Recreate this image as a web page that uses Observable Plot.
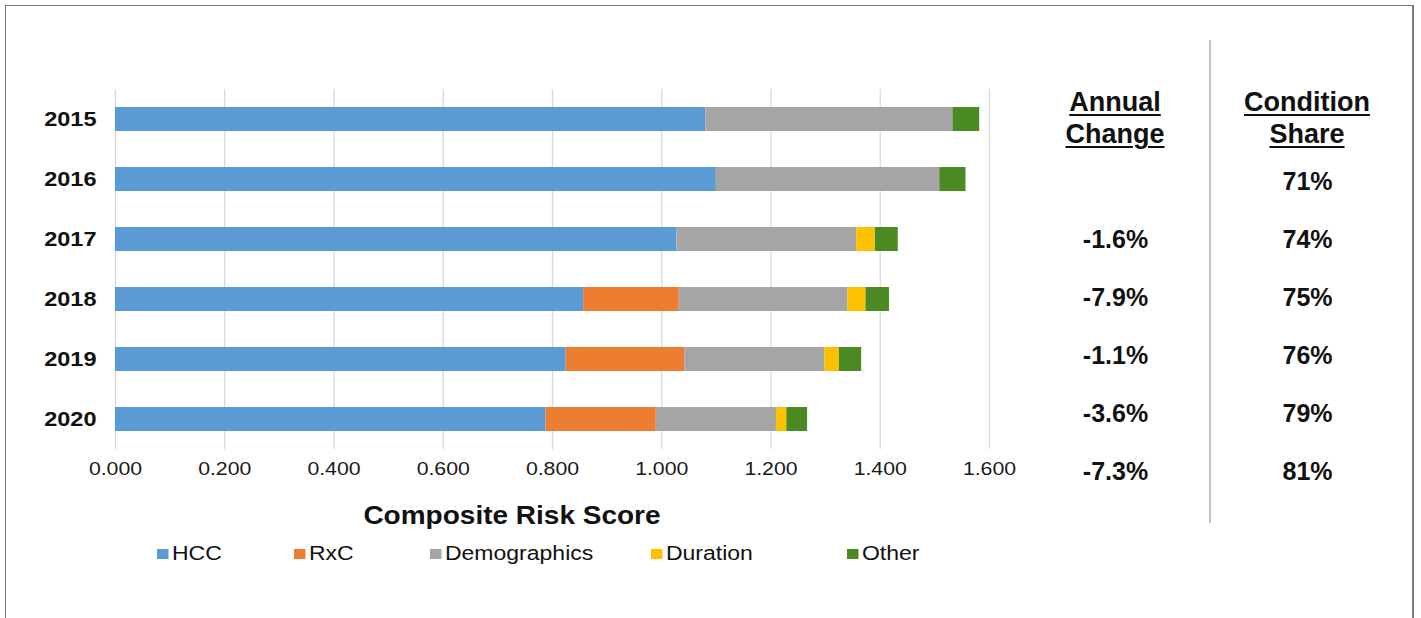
<!DOCTYPE html>
<html><head><meta charset="utf-8">
<script src="https://cdn.jsdelivr.net/npm/d3@7"></script>
<script src="https://cdn.jsdelivr.net/npm/@observablehq/plot@0.6"></script>
<style>
body{margin:0;background:#fff;font-family:"Liberation Sans",Arial,sans-serif;color:#111;}
#wrap{position:relative;width:1421px;height:618px;overflow:hidden;background:#fff;}
#frame{position:absolute;left:5px;top:5px;width:1409px;height:660px;border:1px solid #7a7a7a;border-right:2px solid #7a7a7a;box-sizing:border-box;}
#chart{position:absolute;left:0;top:0;}
#table{position:absolute;left:1010px;top:0;}
#divider{position:absolute;left:1209px;top:40px;width:2px;height:483px;background:#c4c4c4;}
.hdr{position:absolute;top:86px;width:220px;text-align:center;font-weight:bold;font-size:27px;line-height:32px;text-decoration:underline;text-decoration-thickness:2px;text-underline-offset:3px;}
#xtitle{position:absolute;left:312px;top:500px;width:400px;text-align:center;font-weight:bold;font-size:25px;line-height:30px;transform:scaleX(1.12);}
.leg{position:absolute;top:542px;font-size:20px;line-height:22px;white-space:nowrap;transform:scaleX(1.15);transform-origin:left center;}
.leg i{display:inline-block;width:10px;height:10px;margin-right:3px;vertical-align:1px;}
</style>
</head><body>
<div id="wrap">
  <div id="frame"></div>
  <div id="chart"></div>
  <div id="table"></div>
  <div id="divider"></div>
  <div class="hdr" style="left:1005px">Annual<br>Change</div>
  <div class="hdr" style="left:1197px">Condition<br>Share</div>
  <div id="xtitle">Composite Risk Score</div>
  <div id="legend"></div>
</div>
<script>
// ---- data ----
const years = ["2015", "2016", "2017", "2018", "2019", "2020"];
const series = ["HCC", "RxC", "Demographics", "Duration", "Other"];
const colors = ["#5b9bd5", "#ed7d31", "#a5a5a5", "#ffc000", "#4b8a22"];
const hcc = [1.081, 1.100, 1.028, 0.857, 0.825, 0.788];
const rxc = [0, 0, 0, 0.175, 0.217, 0.202];
const demographics = [0.452, 0.409, 0.329, 0.309, 0.257, 0.220];
const duration = [0, 0, 0.034, 0.033, 0.026, 0.019];
const other = [0.049, 0.048, 0.042, 0.043, 0.041, 0.038];
const xTicks = [0, 0.2, 0.4, 0.6, 0.8, 1.0, 1.2, 1.4, 1.6];
const annualChange = ["", "-1.6%", "-7.9%", "-1.1%", "-3.6%", "-7.3%"];
const conditionShare = ["71%", "74%", "75%", "76%", "79%", "81%"];

const values = [hcc, rxc, demographics, duration, other];
const rows = [];
years.forEach((y, i) => series.forEach((s, j) => {
  if (values[j][i] > 0) rows.push({year: y, series: s, value: values[j][i]});
}));

const fmt = d3.format(".3f");
const chart = Plot.plot({
  width: 1040, height: 499,
  marginLeft: 115, marginRight: 51, marginTop: 89, marginBottom: 50,
  style: {fontFamily: "'Liberation Sans', Arial, sans-serif", background: "transparent", color: "#111", overflow: "visible"},
  x: {domain: [0, 1.6]},
  y: {domain: years, paddingInner: 0.6, paddingOuter: 0.3},
  color: {domain: series, range: colors},
  marks: [
    Plot.gridX(xTicks, {stroke: "#d9d9d9", strokeOpacity: 1, strokeWidth: 1.3}),
    Plot.barX(rows, {x: "value", y: "year", fill: "series"}),
    Plot.axisX(xTicks, {tickSize: 0, tickPadding: 12, fontSize: 19, tickFormat: fmt, label: null, fill: "#1a1a1a"}),
    Plot.axisY({tickSize: 0, tickPadding: 19, fontSize: 21, fontWeight: "bold", label: null, fill: "#111"})
  ]
});
document.getElementById("chart").appendChild(chart);
// horizontal stretch of chart texts, as in the reference
chart.querySelectorAll("g[aria-label='x-axis tick label'] text, g[aria-label='y-axis tick label'] text").forEach(t => {
  const L = t.getComputedTextLength();
  t.setAttribute("textLength", L * 1.12);
  t.setAttribute("lengthAdjust", "spacingAndGlyphs");
});

const tableRows = [];
annualChange.forEach((v, i) => { if (v) tableRows.push({col: "annual", row: i, label: v}); });
conditionShare.forEach((v, i) => tableRows.push({col: "share", row: i, label: v}));
const table = Plot.plot({
  width: 411, height: 520, margin: 0,
  style: {fontFamily: "'Liberation Sans', Arial, sans-serif", background: "transparent"},
  x: {type: "point", domain: ["annual", "share"], range: [105, 297], padding: 0, axis: null},
  y: {type: "point", domain: d3.range(6), range: [179, 473], padding: 0, axis: null},
  marks: [
    Plot.text(tableRows, {x: "col", y: "row", text: "label", fontSize: 25, fontWeight: "bold", fill: "#111"})
  ]
});
document.getElementById("table").appendChild(table);

const legendLeft = [157, 294, 430, 651, 847];
const legend = document.getElementById("legend");
series.forEach((s, j) => {
  const d = document.createElement("div");
  d.className = "leg";
  d.style.left = legendLeft[j] + "px";
  d.innerHTML = `<i style="background:${colors[j]}"></i>${s}`;
  legend.appendChild(d);
});
</script>
</body></html>
